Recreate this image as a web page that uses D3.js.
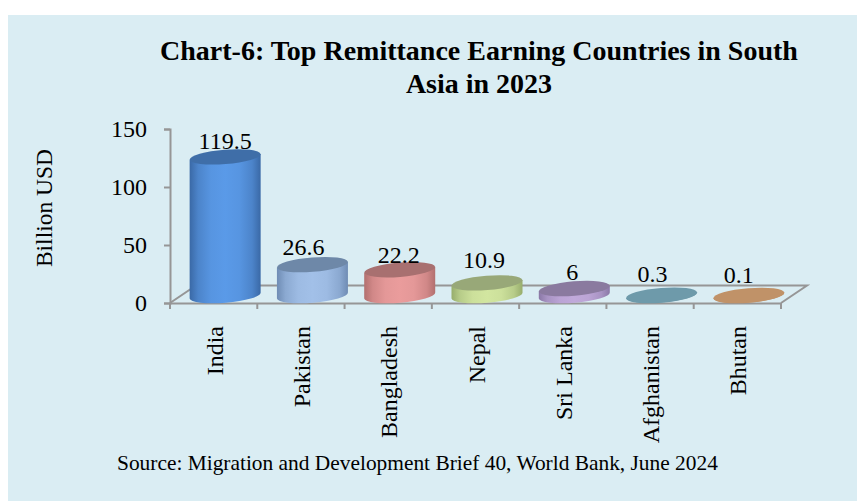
<!DOCTYPE html>
<html><head><meta charset="utf-8">
<script src="https://cdn.jsdelivr.net/npm/d3@7"></script>
<style>html,body{margin:0;padding:0;background:#fff}svg{display:block}text{font-family:"Liberation Serif",serif;fill:#000}</style>
</head><body><svg id="c" width="858" height="501"></svg>
<script>
const categories=["India","Pakistan","Bangladesh","Nepal","Sri Lanka","Afghanistan","Bhutan"];
const values=[119.5,26.6,22.2,10.9,6,0.3,0.1];
const valueLabels=["119.5","26.6","22.2","10.9","6","0.3","0.1"];
const yTicks=[0,50,100,150];
const titleLines=["Chart-6: Top Remittance Earning Countries in South","Asia in 2023"];
const yTitle="Billion USD";
const source="Source: Migration and Development Brief 40, World Bank, June 2024";
const sideCols=["#3a69a6","#6f8cb4","#b2706f","#97ad6c","#8a78a6","#6e9aaa","#c09268"];
const midCols=["#5a9ae8","#a2c0e8","#ea9c9c","#d2e6a0","#c0a9da","#6e9aaa","#c09268"];
const topCols=["#3f6ea8","#6e88a8","#a87070","#98a878","#8a7a9f","#6e9aaa","#c09268"];
// label nudges relative to the bar top (layout only)
const labelDx=[0,-9,-1,-3,-2,-9,-10];
const labelDy=[-8,-10,-7,-15,-9,-13,-12];

const svg=d3.select("#c");
svg.append("rect").attr("x",8).attr("y",15).attr("width",849).attr("height",486).attr("fill","#daedf3");
const y=d3.scaleLinear().domain([0,150]).range([303,129]);
const x=d3.scaleBand().domain(categories).range([170,781]).paddingInner(0).paddingOuter(0);
const grey="#969696";
const depthX=26,depthY=17.5;
// floor
svg.append("path").attr("fill","none").attr("stroke",grey).attr("stroke-width",2)
 .attr("d",`M170,${y(0)}L${170+depthX},${y(0)-depthY}H${781+depthX}L781,${y(0)}`);
// axes
const gy=svg.append("g").attr("transform","translate(170,0)").call(d3.axisLeft(y).tickValues(yTicks).tickSize(6).tickPadding(17));
const gx=svg.append("g").attr("transform",`translate(0,${y(0)})`).call(d3.axisBottom(x).tickSize(0).tickFormat(d=>d));
gx.selectAll(".tick line").remove();
// boundary tick marks
svg.append("g").selectAll("line").data(d3.range(categories.length+1)).join("line")
 .attr("x1",i=>x.range()[0]+i*x.step()).attr("x2",i=>x.range()[0]+i*x.step())
 .attr("y1",y(0)).attr("y2",y(0)+6).attr("stroke",grey).attr("stroke-width",2);
[gy,gx].forEach(g=>{g.selectAll(".domain").attr("stroke",grey).attr("stroke-width",2);g.selectAll("line").attr("stroke",grey).attr("stroke-width",2);});
gy.selectAll("text").style("font-family",'"Liberation Serif",serif').style("font-size","24px").attr("fill","#000");
gx.selectAll("text").style("font-family",'"Liberation Serif",serif').style("font-size","24px").attr("fill","#000")
 .attr("text-anchor","end").attr("dy",0).attr("y",0).attr("x",0)
 .attr("transform",`translate(9,23) rotate(-90)`);
// gradients
const defs=svg.append("defs");
categories.forEach((c,i)=>{
 const g=defs.append("linearGradient").attr("id","g"+i);
 const mix=d3.interpolateRgb(sideCols[i],midCols[i]);
 [[0,0],[12,.55],[30,.9],[50,1],[70,.9],[88,.55],[100,0]].forEach(([o,t])=>
  g.append("stop").attr("offset",o+"%").attr("stop-color",mix(t)));
});
const rx=35.5,ry=7.2,rot=-4.6,tiltDy=2.9,shiftX=11.5,baseLift=7.5;
const cx=d=>x(d)+x.bandwidth()/2+shiftX;
const barH=v=>y(0)-y(v);
const bars=svg.append("g").selectAll("g").data(categories).join("g");
bars.append("path").attr("fill",(d,i)=>`url(#g${i})`).attr("d",(d,i)=>{
 const c=cx(d),yb=y(0)-baseLift,yt=yb-barH(values[i]);
 return `M${c-rx},${yt+tiltDy}L${c-rx},${yb+tiltDy}A${rx},${ry} ${rot} 0 0 ${c+rx},${yb-tiltDy}L${c+rx},${yt-tiltDy}Z`;
});
bars.append("ellipse").attr("rx",rx).attr("ry",ry).attr("fill",(d,i)=>topCols[i])
 .attr("transform",(d,i)=>`translate(${cx(d)},${y(0)-baseLift-barH(values[i])}) rotate(${rot})`);
bars.append("text").attr("text-anchor","middle").style("font-size","24px")
 .attr("x",(d,i)=>cx(d)+labelDx[i]).attr("y",(d,i)=>y(0)-baseLift-barH(values[i])+labelDy[i])
 .text((d,i)=>valueLabels[i]);
// titles
svg.selectAll(".t").data(titleLines).join("text").attr("class","t").attr("text-anchor","middle")
 .attr("x",479).attr("y",(d,i)=>60+i*33).style("font-size","28px").style("font-weight","bold").text(d=>d);
svg.append("text").attr("transform","translate(52,208) rotate(-90)").attr("text-anchor","middle").style("font-size","23.5px").text(yTitle);
svg.append("text").attr("x",117).attr("y",470).style("font-size","21.4px").text(source);
</script></body></html>
